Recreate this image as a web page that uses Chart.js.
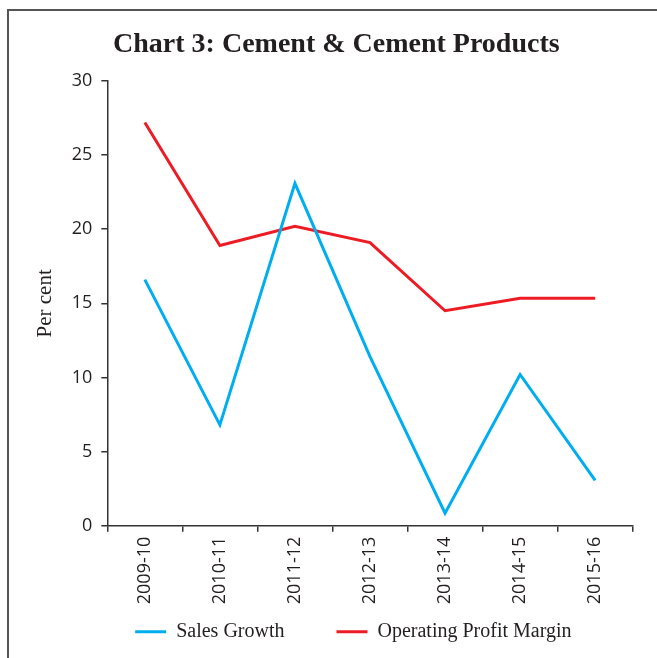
<!DOCTYPE html>
<html><head><meta charset="utf-8">
<script src="https://cdn.jsdelivr.net/npm/chart.js@4"></script>
<style>
html,body{margin:0;padding:0;background:#fff;}
#wrap{position:relative;width:657px;height:658px;overflow:hidden;}
#frame{position:absolute;left:7px;top:9px;width:720px;height:720px;border-top:2px solid #555;border-left:2px solid #555;}
canvas{position:absolute;left:0;top:0;}
</style></head><body>
<div id="wrap"><div id="frame"></div><canvas id="c" width="657" height="658" style="width:657px;height:658px"></canvas></div>
<script>
const categories = ['2009-10','2010-11','2011-12','2012-13','2013-14','2014-15','2015-16'];
const salesGrowth = [16.6, 6.8, 23.1, 11.4, 0.85, 10.2, 3.05];
const operatingProfitMargin = [27.2, 18.9, 20.2, 19.1, 14.5, 15.35, 15.35];
const yMin = 0, yMax = 30, yStep = 5;
const seriesNames = ['Sales Growth', 'Operating Profit Margin'];
const titleText = 'Chart 3: Cement & Cement Products';

const shiftPlugin = {
  id: 'shiftBlocks',
  afterLayout(chart) {
    const t = chart.titleBlock; if (t) { t.left += 20; t.right += 20; }
    const l = chart.legend; if (l) { l.left += 37; l.right += 37; l.top -= 36; l.bottom -= 36; }
  }
};

new Chart(document.getElementById('c'), {
  type: 'line',
  data: {
    labels: categories,
    datasets: [
      { label: seriesNames[0], data: salesGrowth, borderColor: '#00AEEF', backgroundColor: '#00AEEF', borderWidth: 3, pointRadius: 0, tension: 0 },
      { label: seriesNames[1], data: operatingProfitMargin, borderColor: '#ED1C24', backgroundColor: '#ED1C24', borderWidth: 3, pointRadius: 0, tension: 0 }
    ]
  },
  options: {
    responsive: false,
    animation: false,
    layout: { padding: { left: 0, right: 24.3, top: 0, bottom: -29.7 } },
    plugins: {
      tooltip: { enabled: false },
      title: {
        display: true, text: titleText, color: '#231f20',
        font: { family: 'Liberation Serif', size: 28, weight: 'bold' },
        padding: { top: 28, bottom: 19.4 }
      },
      legend: {
        position: 'bottom',
        labels: {
          font: { family: 'Liberation Serif', size: 20 }, color: '#231f20',
          boxWidth: 31, boxHeight: 3, padding: 52,
          generateLabels(chart) {
            return Chart.defaults.plugins.legend.labels.generateLabels(chart).map(it => Object.assign(it, { lineWidth: 0 }));
          }
        }
      }
    },
    scales: {
      x: {
        offset: true,
        grid: { offset: true, drawOnChartArea: false, drawTicks: true, tickLength: 6, color: '#333', lineWidth: 1.5 },
        border: { color: '#333', width: 1.5 },
        ticks: { minRotation: 90, maxRotation: 90, autoSkip: false, padding: 5, color: '#231f20', font: { family: 'Open Sans', size: 18 } },
        afterFit(s) { s.height = 80; }
      },
      y: {
        min: yMin, max: yMax,
        grid: { drawOnChartArea: false, drawTicks: true, tickLength: 6, color: '#333', lineWidth: 1.5 },
        border: { color: '#333', width: 1.5 },
        ticks: { stepSize: yStep, padding: 9, color: '#231f20', font: { family: 'Open Sans', size: 18 } },
        title: { display: true, text: 'Per cent', color: '#231f20', font: { family: 'Liberation Serif', size: 21 }, padding: { top: 33, bottom: 0 } },
        afterFit(s) { s.width = 107.3; }
      }
    }
  },
  plugins: [shiftPlugin]
});
</script>
</body></html>
